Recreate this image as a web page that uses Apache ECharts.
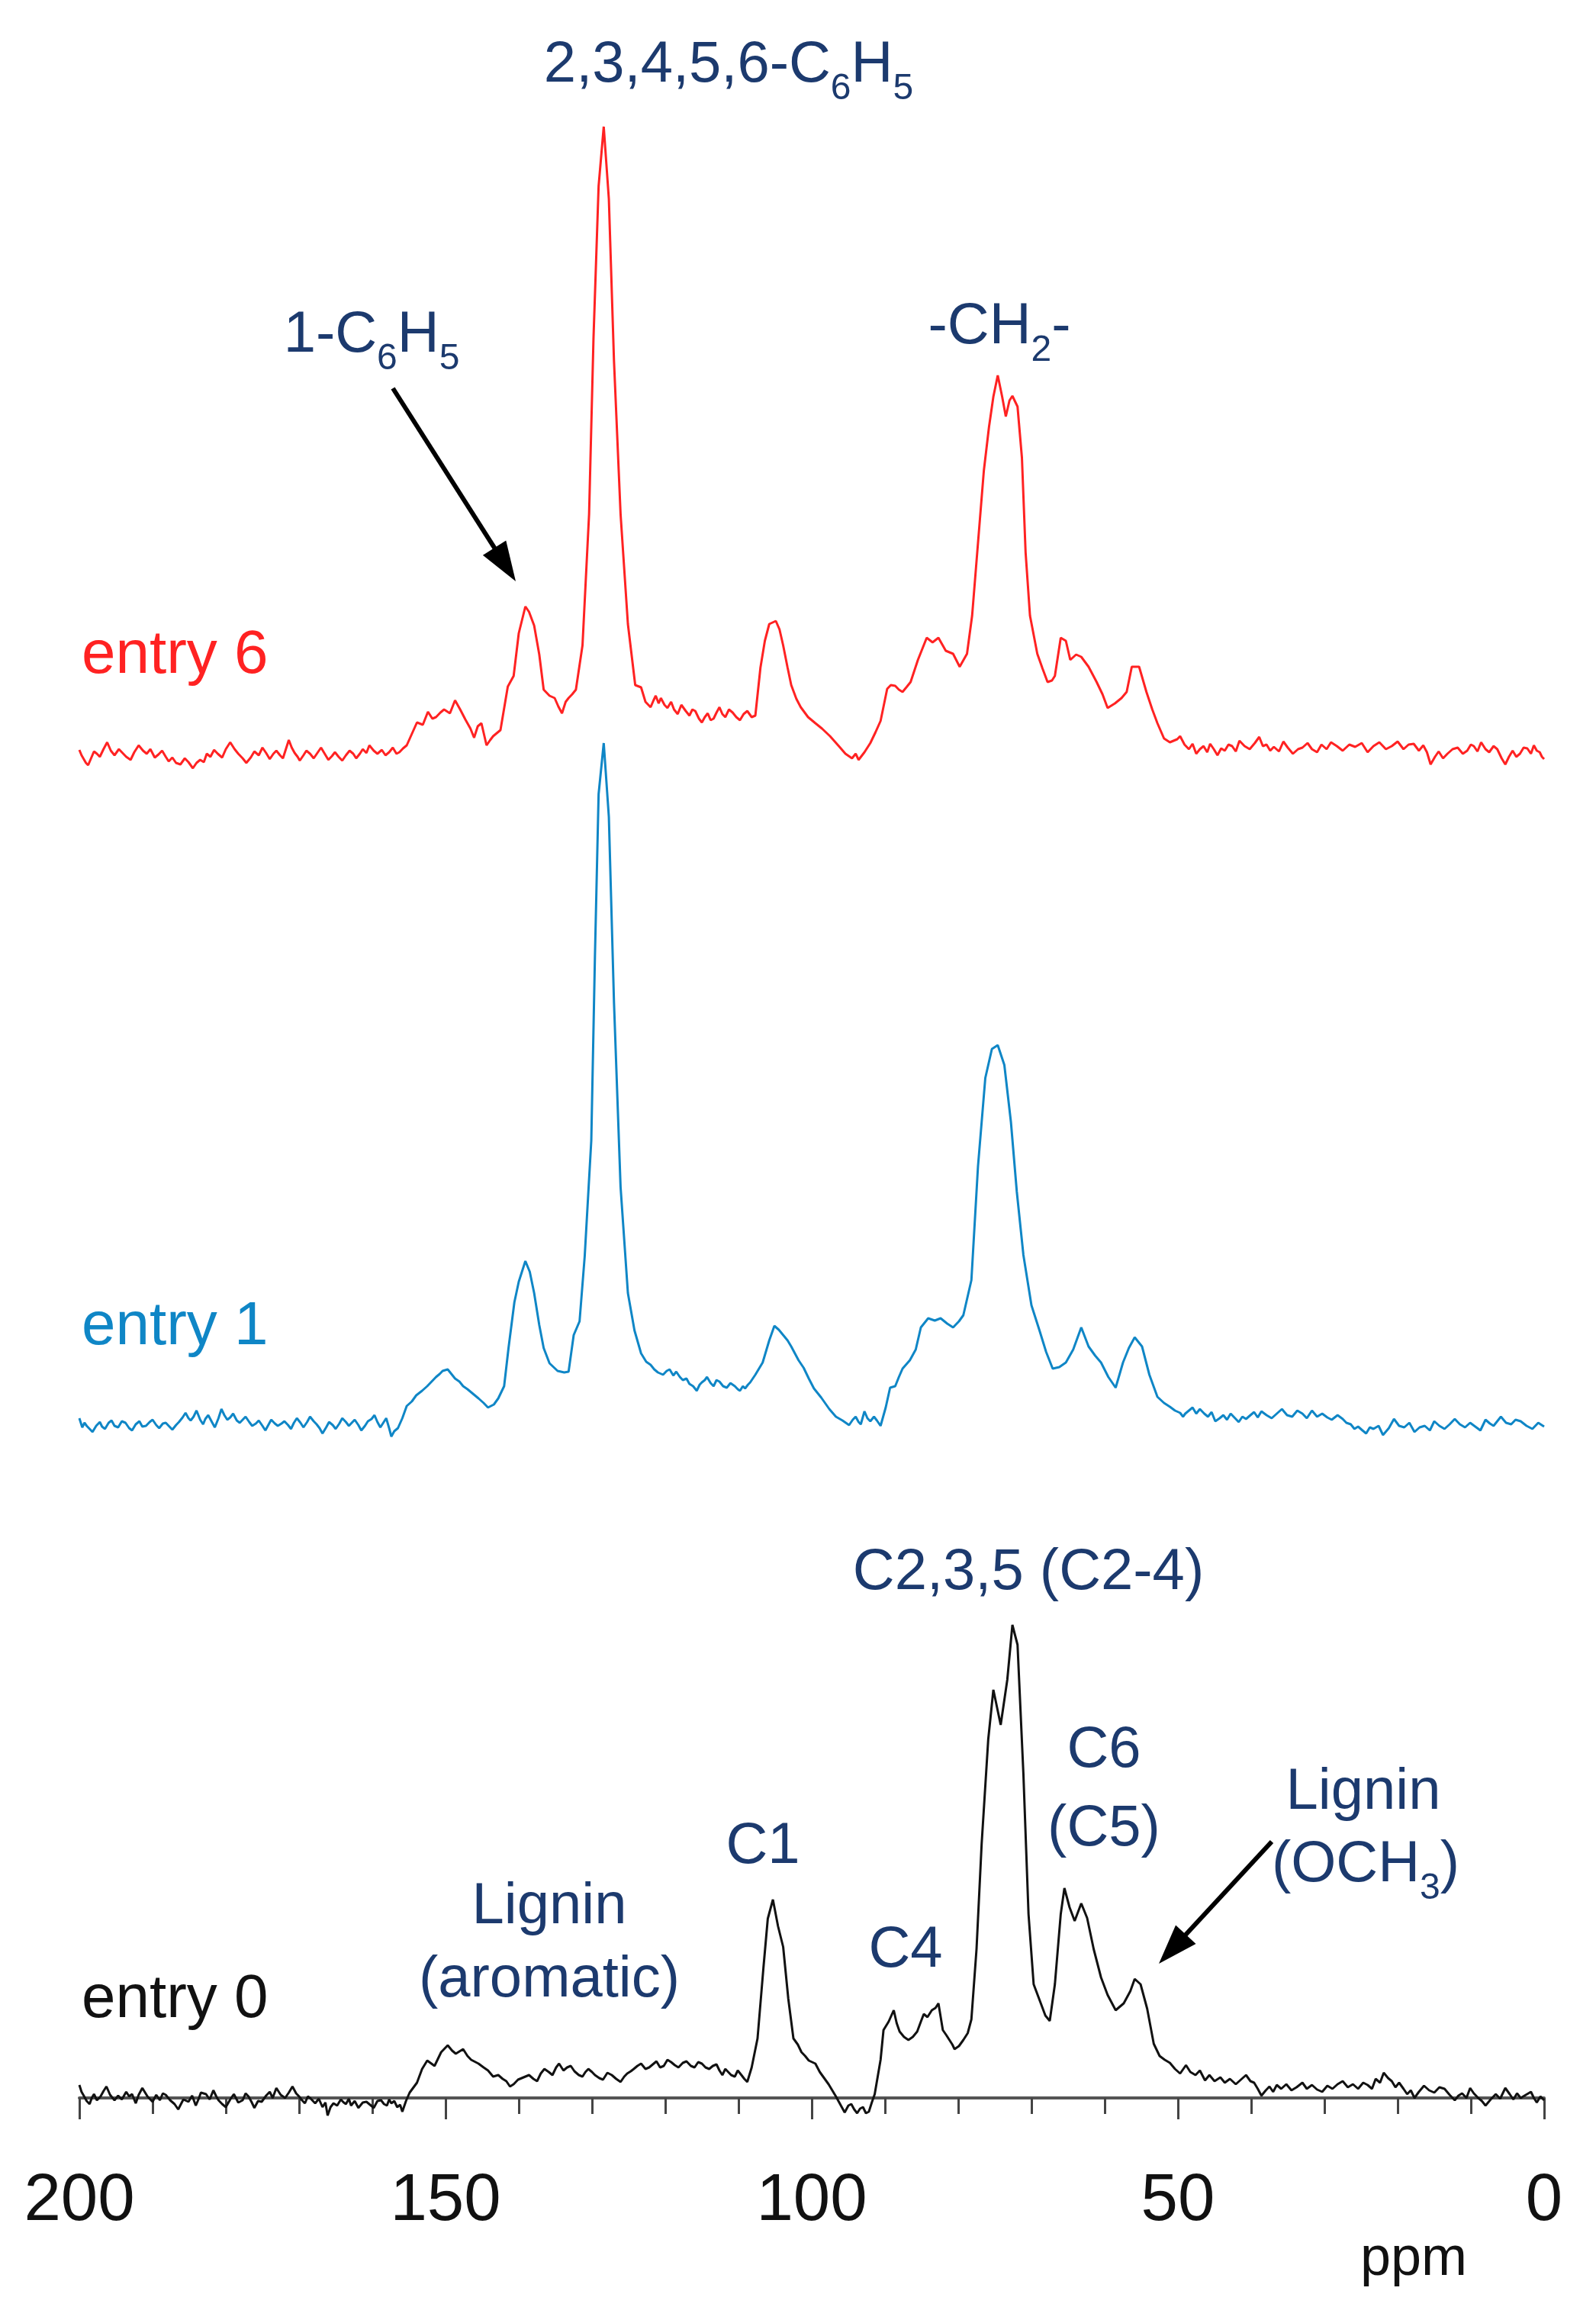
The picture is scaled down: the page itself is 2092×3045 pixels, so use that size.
<!DOCTYPE html>
<html>
<head>
<meta charset="utf-8">
<script src="https://cdn.jsdelivr.net/npm/echarts@6.0.0/dist/echarts.min.js"></script>
<style>
    html, body { margin: 0; padding: 0; background: #fff; }
    #chart { width: 2092px; height: 3045px; }
</style>
</head>
<body>
<div id="chart"></div>
<script>
    // ppm axis (inverted, 200 -> 0)
    var ppmRange = [0, 200];
    var tickLabels = [200, 150, 100, 50, 0];

    // spectra: [ppm, intensity above own baseline]
    var entry0 = [
        [200,17],[199.7,8],[199.4,3],[199,-4],[198.6,-8],[198.3,0],[198,5],[197.6,-3],[197.1,2],[196.7,9],
        [196.3,15],[195.8,4],[195.2,-3],[194.7,3],[194.2,-2],[193.6,8],[193.2,2],[192.8,5],[192.3,-7],[191.9,4],
        [191.4,13],[190.7,2],[190,-5],[189.5,4],[189,-3],[188.6,6],[188.2,4],[187.6,-3],[187,-8],[186.5,-15],
        [185.8,-2],[185.1,-5],[184.6,3],[184.1,-10],[183.7,-1],[183.4,7],[182.7,5],[182.2,-2],[181.7,10],[181.3,2],
        [181,-3],[180.5,-8],[180,-12],[179.4,-2],[178.9,5],[178.3,-6],[177.7,-3],[177.3,6],[176.9,2],[176.5,-5],
        [176.1,-13],[175.6,-4],[175.1,-5],[174.5,3],[174,8],[173.6,0],[173.1,13],[172.5,4],[171.9,0],[171.4,7],
        [170.9,15],[170.4,6],[170,2],[169.6,-3],[169.2,-7],[168.8,2],[168.5,0],[168.1,-4],[167.8,-7],[167.3,-1],
        [166.8,-12],[166.4,-6],[166.1,-23],[165.7,-12],[165.3,-7],[164.8,-10],[164.3,-2],[163.9,-6],[163.6,-8],[163.2,-1],
        [162.9,-10],[162.4,-4],[161.9,-13],[161.3,-6],[160.8,-5],[160.3,-9],[159.8,-13],[159.3,-4],[158.8,-3],[158.4,-8],
        [158,-10],[157.7,-2],[157.4,-7],[157,-4],[156.6,-12],[156.2,-9],[155.9,-18],[155.4,-4],[154.9,7],[153.9,20],
        [153.2,38],[152.5,49],[151.5,42],[151,52],[150.6,60],[149.7,69],[149.1,62],[148.6,58],[147.6,64],[147,55],
        [146.5,50],[145.5,45],[144.8,40],[144.2,36],[143.5,28],[142.8,30],[142.2,25],[141.7,22],[141.2,15],[140.7,18],
        [140.1,24],[139.6,26],[138.6,30],[138,25],[137.5,22],[137,32],[136.5,38],[135.9,34],[135.4,30],[134.9,40],
        [134.5,45],[133.9,36],[133.4,40],[132.9,42],[132.4,35],[131.8,30],[131.3,28],[130.9,34],[130.5,38],[130,34],
        [129.6,30],[129,26],[128.5,24],[127.9,33],[127.3,30],[126.7,25],[126.1,21],[125.6,28],[125.2,32],[124.7,35],
        [124.3,38],[123.8,42],[123.3,45],[122.7,38],[122.2,40],[121.7,44],[121.2,48],[120.7,40],[120.2,42],[119.7,50],
        [119.2,47],[118.7,43],[118.2,40],[117.6,46],[117.1,48],[116.5,42],[116,40],[115.5,47],[115,45],[114.5,40],
        [114,38],[113.5,42],[113,44],[112.6,36],[112.2,30],[111.8,38],[111.5,35],[111,30],[110.5,28],[110.1,36],
        [109.6,30],[109.2,25],[108.8,21],[108.2,40],[107.4,78],[106.6,170],[106,235],[105.3,260],[104.6,225],[103.9,198],
        [103.2,130],[102.5,78],[101.9,70],[101.4,60],[100.9,55],[100.4,49],[99.5,45],[98.9,34],[98.3,26],[97.7,18],
        [97.2,10],[96.7,2],[96.3,-5],[95.9,-12],[95.5,-19],[95,-10],[94.6,-8],[94.2,-15],[93.8,-20],[93.4,-14],
        [93,-12],[92.6,-20],[92.2,-18],[91.8,-6],[91.4,5],[90.6,50],[90.2,89],[89.5,100],[88.8,115],[88.4,98],
        [88,87],[87.4,80],[86.8,76],[86.2,80],[85.6,87],[85.1,100],[84.7,110],[84.2,106],[83.6,115],[83.1,118],
        [82.7,124],[82.1,89],[81.6,82],[81.2,76],[80.8,70],[80.5,64],[79.9,68],[79.3,76],[78.7,85],[78.2,103],
        [77.5,195],[76.8,333],[75.9,470],[75.2,535],[74.2,489],[73.3,548],[72.6,620],[71.9,594],[71.1,425],[70.4,241],
        [69.7,149],[68.8,126],[68.1,108],[67.5,101],[66.8,149],[66,241],[65.5,275],[64.8,250],[64.1,232],[63.2,255],
        [62.4,236],[61.5,195],[60.5,158],[59.6,135],[58.5,115],[57.4,124],[56.5,140],[55.9,156],[55.1,149],[54.2,117],
        [53.3,71],[52.5,55],[51.8,50],[51.1,46],[50.4,38],[49.7,32],[48.9,43],[48.3,34],[47.6,30],[47,36],
        [46.3,23],[45.7,30],[45,22],[44.2,27],[43.6,20],[42.9,25],[42.1,18],[41.4,24],[40.7,30],[40.1,22],
        [39.6,20],[39.1,12],[38.6,3],[38,10],[37.5,15],[37,8],[36.5,17],[35.9,12],[35.2,18],[34.5,10],
        [33.8,14],[33,20],[32.4,12],[31.7,17],[31,11],[30.3,8],[29.6,16],[28.9,12],[28.2,18],[27.5,22],
        [26.8,14],[26.1,18],[25.4,12],[24.7,20],[24.1,17],[23.5,12],[23,25],[22.4,20],[21.9,33],[21.3,26],
        [20.8,22],[20.3,14],[19.8,20],[19.2,12],[18.7,5],[18.2,10],[17.7,0],[17.1,8],[16.4,16],[15.7,10],
        [15,7],[14.3,14],[13.6,12],[12.9,4],[12.2,-3],[11.7,3],[11.2,6],[10.6,0],[10.1,13],[9.6,6],
        [9,0],[8.5,-4],[8,-10],[7.3,-2],[6.6,5],[6,-1],[5.3,13],[4.7,5],[4.2,-2],[3.7,6],
        [3.2,0],[2.5,4],[1.8,8],[1.4,0],[1,-6],[0.5,2],[0,-3]
    ];

    var entry1 = [
        [200,8],[199.6,-4],[199.3,2],[199,-2],[198.6,-6],[198.2,-10],[197.7,-2],[197.2,3],[196.9,-3],[196.5,-6],
        [196,2],[195.6,5],[195.2,-2],[194.7,-4],[194.2,4],[193.7,2],[193.2,-5],[192.8,-8],[192.3,0],[191.8,4],
        [191.4,-3],[190.9,-2],[190.4,3],[190,6],[189.5,-1],[189.1,-5],[188.6,1],[188.2,2],[187.7,-3],[187.3,-7],
        [186.8,-1],[186.4,3],[185.9,9],[185.5,15],[185.1,8],[184.8,5],[184.4,10],[184,18],[183.5,6],[183.1,0],
        [182.8,7],[182.4,12],[181.9,3],[181.5,-4],[181,8],[180.6,20],[180.2,12],[179.8,6],[179.4,9],[179,14],
        [178.5,5],[178.1,2],[177.7,6],[177.3,10],[176.8,3],[176.4,-2],[175.9,1],[175.5,5],[175,-2],[174.6,-8],
        [174.2,-1],[173.8,6],[173.3,1],[172.9,-2],[172.4,1],[172,4],[171.5,-1],[171.1,-6],[170.7,2],[170.3,8],
        [169.8,2],[169.4,-4],[168.9,3],[168.5,10],[168,4],[167.6,0],[167.2,-5],[166.8,-12],[166.3,-4],[165.9,3],
        [165.4,-1],[165,-6],[164.5,1],[164.1,8],[163.6,3],[163.2,-2],[162.8,2],[162.4,6],[161.9,-1],[161.5,-8],
        [161,-2],[160.6,4],[160.1,7],[159.7,12],[159.3,3],[158.9,-4],[158.5,2],[158.1,8],[157.7,-5],[157.4,-16],
        [157,-9],[156.5,-5],[155.9,8],[155.3,24],[154.6,30],[154,38],[153.2,44],[152.5,50],[151.9,56],[151.3,62],
        [150.8,66],[150.4,70],[149.7,72],[149.2,66],[148.7,60],[148.1,56],[147.6,50],[147,46],[146.5,42],[146,38],
        [145.5,34],[144.8,28],[144.2,22],[143.4,26],[142.8,34],[142,50],[141.4,100],[140.6,160],[140,187],[139.1,214],
        [138.5,200],[137.9,172],[137.2,130],[136.6,100],[135.8,80],[134.7,70],[133.8,68],[133.2,69],[132.5,117],[131.7,135],
        [131,220],[130.1,372],[129.6,614],[129.1,826],[128.4,893],[127.7,796],[127,553],[126.1,311],[125.1,172],[124.2,123],
        [123.3,93],[122.6,82],[122,78],[121.5,72],[121,68],[120.3,65],[119.8,70],[119.4,72],[118.9,64],[118.5,69],
        [118,62],[117.6,58],[117.1,60],[116.7,53],[116.2,50],[115.7,44],[115.3,52],[115,55],[114.6,58],[114.3,62],
        [113.8,54],[113.4,50],[113,58],[112.6,56],[112.1,50],[111.6,48],[111.1,54],[110.5,50],[110.1,46],[109.8,44],
        [109.4,50],[109.1,47],[108.7,52],[108.4,55],[107.7,65],[106.7,81],[105.8,110],[105.1,129],[104.5,124],[103.9,117],
        [103.3,110],[102.8,102],[101.8,84],[101.1,74],[100.4,60],[99.7,47],[98.7,35],[97.6,20],[96.7,10],[95.8,5],
        [94.9,-1],[94.4,6],[94,10],[93.6,3],[93.3,0],[92.8,17],[92.4,8],[92,4],[91.5,10],[91.1,5],
        [90.6,-2],[89.9,22],[89.3,48],[88.6,50],[88.1,62],[87.6,73],[86.6,84],[85.8,98],[85.1,127],[84.1,139],
        [83.2,136],[82.4,139],[81.5,132],[80.7,127],[79.9,135],[79.3,143],[78.2,189],[77.3,338],[76.3,454],[75.4,492],
        [74.6,497],[73.7,471],[72.8,396],[72,305],[71.1,222],[70,156],[68.9,123],[68,95],[67.1,73],[66.2,75],
        [65.3,81],[64.3,98],[63.2,127],[62.2,102],[61.3,90],[60.5,81],[59.5,62],[58.5,48],[57.5,81],[56.7,100],
        [55.9,114],[54.9,102],[53.9,65],[52.8,36],[51.9,28],[51.1,23],[50.4,18],[49.7,15],[49.3,10],[49,14],
        [48.5,18],[48,22],[47.5,14],[47,20],[46.4,14],[45.9,10],[45.4,16],[44.9,4],[44.3,8],[43.8,12],
        [43.3,6],[42.8,14],[42.2,8],[41.7,3],[41.2,10],[40.7,7],[40.1,12],[39.6,16],[39.1,9],[38.6,17],
        [37.9,12],[37.2,8],[36.5,14],[35.8,20],[35.1,12],[34.4,10],[33.7,18],[33,14],[32.4,8],[31.7,18],
        [31,10],[30.3,14],[29.6,9],[29,6],[28.2,12],[27.5,7],[27,2],[26.4,0],[25.9,-6],[25.4,-3],
        [24.8,-8],[24.3,-12],[23.8,-4],[23.3,-6],[22.6,-2],[22,-14],[21.2,-5],[20.5,7],[19.8,-2],[19.1,-4],
        [18.4,2],[17.7,-10],[17,-4],[16.3,-2],[15.6,-8],[15,4],[14.3,-2],[13.6,-6],[12.9,0],[12.2,7],
        [11.5,0],[10.8,-4],[10.1,2],[9.4,-3],[8.7,-8],[8,6],[7.4,1],[6.9,-2],[6.4,4],[5.9,10],
        [5.2,2],[4.5,0],[3.9,6],[3.2,4],[2.4,-2],[1.6,-6],[0.8,2],[0,-3]
    ];

    var entry6 = [
        [200,7],[199.7,0],[199.4,-5],[199.1,-10],[198.8,-13],[198.4,-4],[198,5],[197.6,2],[197.2,-2],[196.7,8],
        [196.2,17],[195.7,6],[195.2,0],[194.6,8],[194.1,3],[193.6,-2],[193,-6],[192.5,4],[191.9,13],[191.3,6],
        [190.8,2],[190.3,8],[189.7,-3],[189.2,1],[188.7,6],[188.2,-2],[187.8,-8],[187.3,-3],[186.8,-10],[186.2,-12],
        [185.6,-4],[185.1,-9],[184.5,-17],[184,-10],[183.5,-6],[183,-9],[182.6,2],[182.1,-2],[181.6,7],[181.1,2],
        [180.5,-3],[180,8],[179.4,17],[178.8,8],[178.3,2],[177.7,-4],[177.2,-10],[176.6,-3],[176.1,5],[175.5,0],
        [175,10],[174.5,3],[174,-5],[173.5,2],[173.1,6],[172.6,0],[172.2,-4],[171.8,8],[171.4,20],[171,10],
        [170.6,3],[170.2,-2],[169.9,-7],[169.4,0],[169,6],[168.5,2],[168,-4],[167.5,3],[167,10],[166.5,2],
        [166,-6],[165.5,-1],[165.1,4],[164.6,-2],[164.1,-7],[163.6,0],[163.1,6],[162.6,2],[162.2,-4],[161.7,2],
        [161.3,8],[160.8,3],[160.4,13],[159.8,6],[159.3,2],[158.7,7],[158.2,0],[157.7,4],[157.2,10],[156.7,2],
        [156.3,4],[155.8,9],[155.3,13],[154.6,28],[153.9,43],[153.1,40],[152.4,57],[151.8,48],[151.3,50],[150.7,56],
        [150.2,60],[149.4,55],[148.7,72],[148,60],[147.3,47],[146.6,35],[146.1,23],[145.6,38],[145.1,42],[144.4,13],
        [143.9,20],[143.5,25],[142.5,33],[141.5,90],[140.7,104],[140,160],[139.1,195],[138.6,188],[137.9,170],[137.2,132],
        [136.6,86],[135.8,78],[135.1,75],[134.6,64],[134.1,55],[133.6,70],[133.2,75],[132.7,80],[132.2,86],[131.3,144],
        [130.4,316],[129.8,546],[129.1,746],[128.4,824],[127.7,729],[127,517],[126.1,316],[125.1,172],[124.1,92],[123.3,89],
        [122.7,70],[122,63],[121.6,72],[121.3,78],[120.9,68],[120.6,75],[120.1,66],[119.7,62],[119.2,70],[118.8,60],
        [118.3,54],[117.8,66],[117.2,58],[116.7,52],[116.3,60],[115.9,58],[115.4,48],[115,43],[114.6,50],[114.2,55],
        [113.8,46],[113.4,48],[113,56],[112.6,63],[112.2,54],[111.8,50],[111.3,60],[110.8,56],[110.3,50],[109.8,46],
        [109.3,54],[108.8,58],[108.2,50],[107.7,52],[107,115],[106.4,150],[105.8,172],[104.9,176],[104.4,165],[103.9,144],
        [103.3,115],[102.8,92],[102.1,74],[101.5,63],[100.5,50],[99.5,42],[98.6,35],[97.5,25],[96.3,12],[95.4,2],
        [94.5,-4],[94,2],[93.6,-6],[93.2,-1],[92.8,4],[92,16],[91.3,30],[90.6,45],[89.7,87],[89.2,92],
        [88.6,91],[88.1,86],[87.6,83],[87,90],[86.5,96],[85.5,125],[84.3,154],[83.5,148],[82.7,154],[81.7,137],
        [80.7,133],[79.8,116],[78.8,133],[78.1,183],[77.2,290],[76.5,373],[75.8,430],[75.2,470],[74.6,498],[74,470],
        [73.5,444],[73,465],[72.6,471],[71.9,457],[71.3,390],[70.8,266],[70.2,183],[69.2,133],[68.5,114],[67.8,96],
        [67.2,98],[66.8,104],[66,154],[65.3,150],[64.7,125],[63.9,132],[63.2,129],[62.2,116],[61.1,96],[60.3,80],
        [59.6,62],[58.6,68],[57.7,75],[57,83],[56.3,116],[55.3,116],[54.3,83],[53.5,60],[52.8,42],[51.9,22],
        [51.1,17],[50.1,21],[49.7,25],[49.1,14],[48.5,8],[48,15],[47.5,2],[47,8],[46.5,12],[46,4],
        [45.6,15],[45.1,8],[44.6,0],[44.1,9],[43.6,6],[43.1,14],[42.6,12],[42.1,5],[41.6,19],[40.9,12],
        [40.2,8],[39.5,16],[38.9,24],[38.4,12],[37.9,14],[37.4,6],[36.9,11],[36.2,5],[35.6,18],[35,10],
        [34.3,2],[33.6,8],[33,10],[32.3,16],[31.7,8],[31,4],[30.4,14],[29.7,8],[29.1,17],[28.3,12],
        [27.5,6],[26.6,14],[25.8,11],[24.9,16],[24.1,4],[23.3,12],[22.5,17],[21.6,8],[20.8,12],[20,18],
        [19.2,8],[18.5,14],[17.8,15],[17.1,6],[16.5,13],[16,4],[15.5,-12],[14.9,-2],[14.4,5],[13.8,-4],
        [13.2,2],[12.5,8],[11.8,10],[11.1,2],[10.5,6],[10,14],[9.6,12],[9.1,5],[8.6,17],[8,8],
        [7.5,4],[6.9,12],[6.4,8],[5.8,-4],[5.3,-12],[4.8,-2],[4.3,6],[3.8,-2],[3.3,2],[2.8,10],
        [2.3,9],[1.8,2],[1.4,13],[1,6],[0.6,4],[0.3,-2],[0,-5]
    ];

    var seriesNames = ['entry 0', 'entry 1', 'entry 6'];
    var seriesColors = ['#111111', '#0f86c6', '#ff2222'];
    var navy = '#1c3a6e';

    var myChart = echarts.init(document.getElementById('chart'), null, {renderer: 'canvas'});

    function xAx(idx, visible) {
        return {
            gridIndex: idx, type: 'value', min: ppmRange[0], max: ppmRange[1], interval: 50, inverse: true,
            show: visible,
            axisLine: {show: true, lineStyle: {color: '#555', width: 4}},
            axisTick: {show: true, length: 28, lineStyle: {color: '#444', width: 3}},
            minorTick: {show: true, splitNumber: 5, length: 21, lineStyle: {color: '#444', width: 3}},
            axisLabel: {
                fontSize: 87, color: '#111', margin: 66, fontFamily: 'Liberation Sans',
                formatter: function (v) { return tickLabels.indexOf(v) >= 0 ? String(v) : ''; }
            },
            splitLine: {show: false}
        };
    }

    function txt(str, x, y, size, color, align) {
        return {
            type: 'text', x: x, y: y, z: 100,
            style: {
                text: str, fill: color, font: size + 'px "Liberation Sans", Arial, sans-serif',
                align: align || 'center', verticalAlign: 'middle',
                textAlign: align || 'center', textVerticalAlign: 'middle'
            }
        };
    }

    // text with subscripts, placed by its top edge
    function chem(rich, x, y) {
        return {
            type: 'text', x: x, y: y, z: 100,
            style: {
                text: rich, fill: navy,
                align: 'center', verticalAlign: 'top', textAlign: 'center', textVerticalAlign: 'top',
                rich: {
                    n: {fontSize: 76, fontFamily: 'Liberation Sans', lineHeight: 76, verticalAlign: 'top', fill: navy, color: navy},
                    s: {fontSize: 48, fontFamily: 'Liberation Sans', lineHeight: 137, fill: navy, color: navy}
                }
            }
        };
    }

    function arrow(x1, y1, x2, y2) {
        var dx = x2 - x1, dy = y2 - y1, L = Math.sqrt(dx * dx + dy * dy);
        var ux = dx / L, uy = dy / L, hl = 52, hw = 18;
        var bx = x2 - ux * hl, by = y2 - uy * hl;
        return [
            {type: 'line', z: 100, shape: {x1: x1, y1: y1, x2: bx + ux * 6, y2: by + uy * 6}, style: {stroke: '#000', lineWidth: 6}},
            {type: 'polygon', z: 100, shape: {points: [[x2, y2], [bx - uy * hw, by + ux * hw], [bx + uy * hw, by - ux * hw]]}, style: {fill: '#000'}}
        ];
    }

    var graphics = [
        chem('{n|2,3,4,5,6-C}{s|6}{n|H}{s|5}', 955, 48),
        chem('{n|1-C}{s|6}{n|H}{s|5}', 487, 402),
        chem('{n|-CH}{s|2}{n|-}', 1310, 391),
        chem('{n|(OCH}{s|3}{n|)}', 1790, 2407),
        txt('entry 6', 107, 860, 80, seriesColors[2], 'left'),
        txt('entry 1', 107, 1740, 80, seriesColors[1], 'left'),
        txt('entry 0', 107, 2622, 80, seriesColors[0], 'left'),
        txt('C2,3,5 (C2-4)', 1348, 2062, 76, navy),
        txt('C6', 1447, 2295, 76, navy),
        txt('(C5)', 1447, 2398, 76, navy),
        txt('C1', 1000, 2421, 76, navy),
        txt('C4', 1187, 2557, 76, navy),
        txt('Lignin', 720, 2500, 76, navy),
        txt('(aromatic)', 720, 2596, 76, navy),
        txt('Lignin', 1787, 2350, 76, navy),
        txt('ppm', 1853, 2962, 72, '#111')
    ].concat(arrow(515, 509, 676, 762)).concat(arrow(1667, 2414, 1519, 2574));

    var option = {
        animation: false,
        backgroundColor: '#fff',
        grid: [
            {left: 104, right: 68, top: 1900, bottom: 268},
            {left: 104, right: 68, top: 900, bottom: 1118},
            {left: 104, right: 68, top: 100, bottom: 1995}
        ],
        xAxis: [xAx(0, true), xAx(1, false), xAx(2, false)],
        yAxis: [
            {gridIndex: 0, type: 'value', min: -27, max: 850, show: false},
            {gridIndex: 1, type: 'value', min: -60, max: 967, show: false},
            {gridIndex: 2, type: 'value', min: -60, max: 890, show: false}
        ],
        series: [entry0, entry1, entry6].map(function (d, i) {
            return {
                name: seriesNames[i], type: 'line', xAxisIndex: i, yAxisIndex: i, data: d,
                symbol: 'none', showSymbol: false, clip: false,
                lineStyle: {color: seriesColors[i], width: 3}
            };
        }),
        graphic: graphics
    };
    myChart.setOption(option);
</script>
</body>
</html>
